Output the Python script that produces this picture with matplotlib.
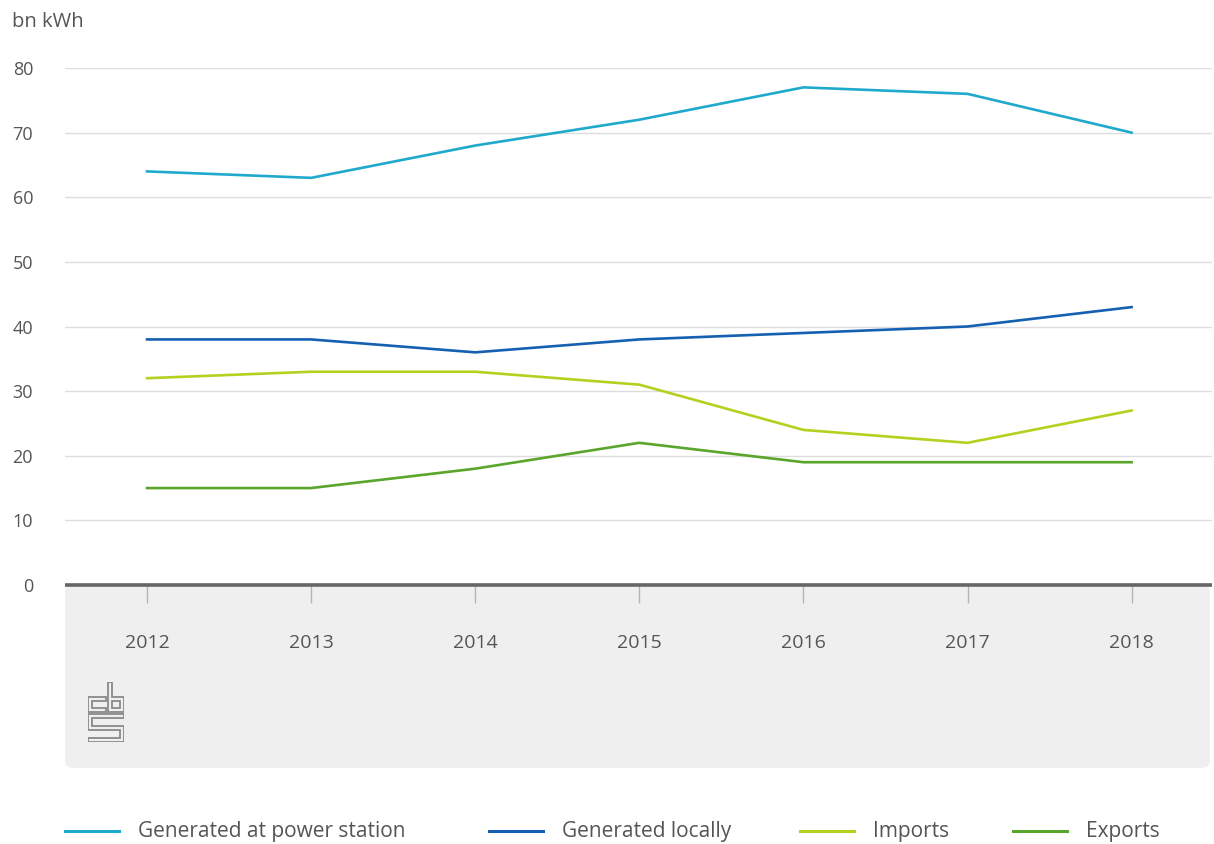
import numpy as np
import matplotlib.pyplot as plt
from matplotlib.patches import FancyBboxPatch, Polygon
from matplotlib.lines import Line2D

plt.rcParams['font.family'] = ['Open Sans', 'DejaVu Sans']

years = [2012, 2013, 2014, 2015, 2016, 2017, 2018]
power_station = [64, 63, 68, 72, 77, 76, 70]
locally = [38, 38, 36, 38, 39, 40, 43]
imports = [32, 33, 33, 31, 24, 22, 27]
exports = [15, 15, 18, 22, 19, 19, 19]

series_names = ['Generated at power station', 'Generated locally', 'Imports', 'Exports']
series_values = [power_station, locally, imports, exports]
series_colors = ['#1fa9cc', '#1560b0', '#b7cf1f', '#5aa52b']

W, H = 1214, 844
fig = plt.figure(figsize=(W / 100, H / 100), dpi=100)

def fx(px):
    return px / W

def fy(py):
    return 1 - py / H

txt = '#555555'

# grey footer panel behind the x axis
panel = FancyBboxPatch((fx(65), fy(768)), fx(1210) - fx(65), fy(585) - fy(768),
                       boxstyle='round,pad=0,rounding_size=0.008',
                       transform=fig.transFigure, facecolor='#efefef',
                       edgecolor='none', zorder=-1)
fig.patches.append(panel)

ax = fig.add_axes([fx(65), fy(585), fx(1212) - fx(65), fy(68) - fy(585)])
ax.set_facecolor('none')
ax.set_xlim(2011.5, 2018.49)
ax.set_ylim(0, 80)

for name, vals, col in zip(series_names, series_values, series_colors):
    ax.plot(years, vals, color=col, lw=1.9, label=name, zorder=3, clip_on=False)

ax.set_yticks(range(0, 81, 10))
ax.yaxis.grid(True, color='#dddddd', lw=1)
ax.set_axisbelow(True)
for s in ['top', 'right', 'left']:
    ax.spines[s].set_visible(False)
ax.spines['bottom'].set_color('#666666')
ax.spines['bottom'].set_linewidth(2.6)
ax.spines['bottom'].set_capstyle('butt')
ax.spines['bottom'].set_zorder(4)

ax.set_xticks(years)
ax.set_xticklabels([str(y) for y in years])
ax.tick_params(axis='x', direction='out', length=13, width=1, color='#b5b5b5',
               pad=22, labelsize=14, labelcolor=txt)
ax.tick_params(axis='y', length=0, pad=23, labelsize=13, labelcolor=txt)

fig.text(fx(12), fy(22), 'bn kWh', fontsize=14.5, color=txt, va='center', ha='left')

# cbs logo: outlined letter shapes
lg = fig.add_axes([fx(88), fy(742), fx(124) - fx(88), fy(682) - fy(742)])
lg.set_xlim(-0.5, 36.5)
lg.set_ylim(-0.5, 60.5)
lg.axis('off')
logo_shapes = [
    # c
    [(18, 45), (0, 45), (0, 30), (18, 30), (18, 34), (4, 34), (4, 41), (18, 41)],
    # b
    [(20, 60), (24, 60), (24, 45), (36, 45), (36, 30), (20, 30)],
    [(24, 34), (32, 34), (32, 41), (24, 41)],
    # s
    [(36, 28), (0, 28), (0, 12), (32, 12), (32, 4), (0, 4), (0, 0), (36, 0),
     (36, 16), (4, 16), (4, 24), (36, 24)],
]
for pts in logo_shapes:
    lg.add_patch(Polygon(pts, closed=True, fill=False, edgecolor='#8a8a8a',
                         lw=1.3, joinstyle='miter'))

# legend row along the bottom
leg_x = [65, 489, 800, 1013]
for name, col, x0 in zip(series_names, series_colors, leg_x):
    fig.add_artist(Line2D([fx(x0), fx(x0 + 54)], [fy(831), fy(831)],
                          transform=fig.transFigure, color=col, lw=2.2))
    fig.text(fx(x0 + 73), fy(831), name, fontsize=15, color=txt,
             va='center', ha='left')

fig.savefig('out.png', dpi=100)
